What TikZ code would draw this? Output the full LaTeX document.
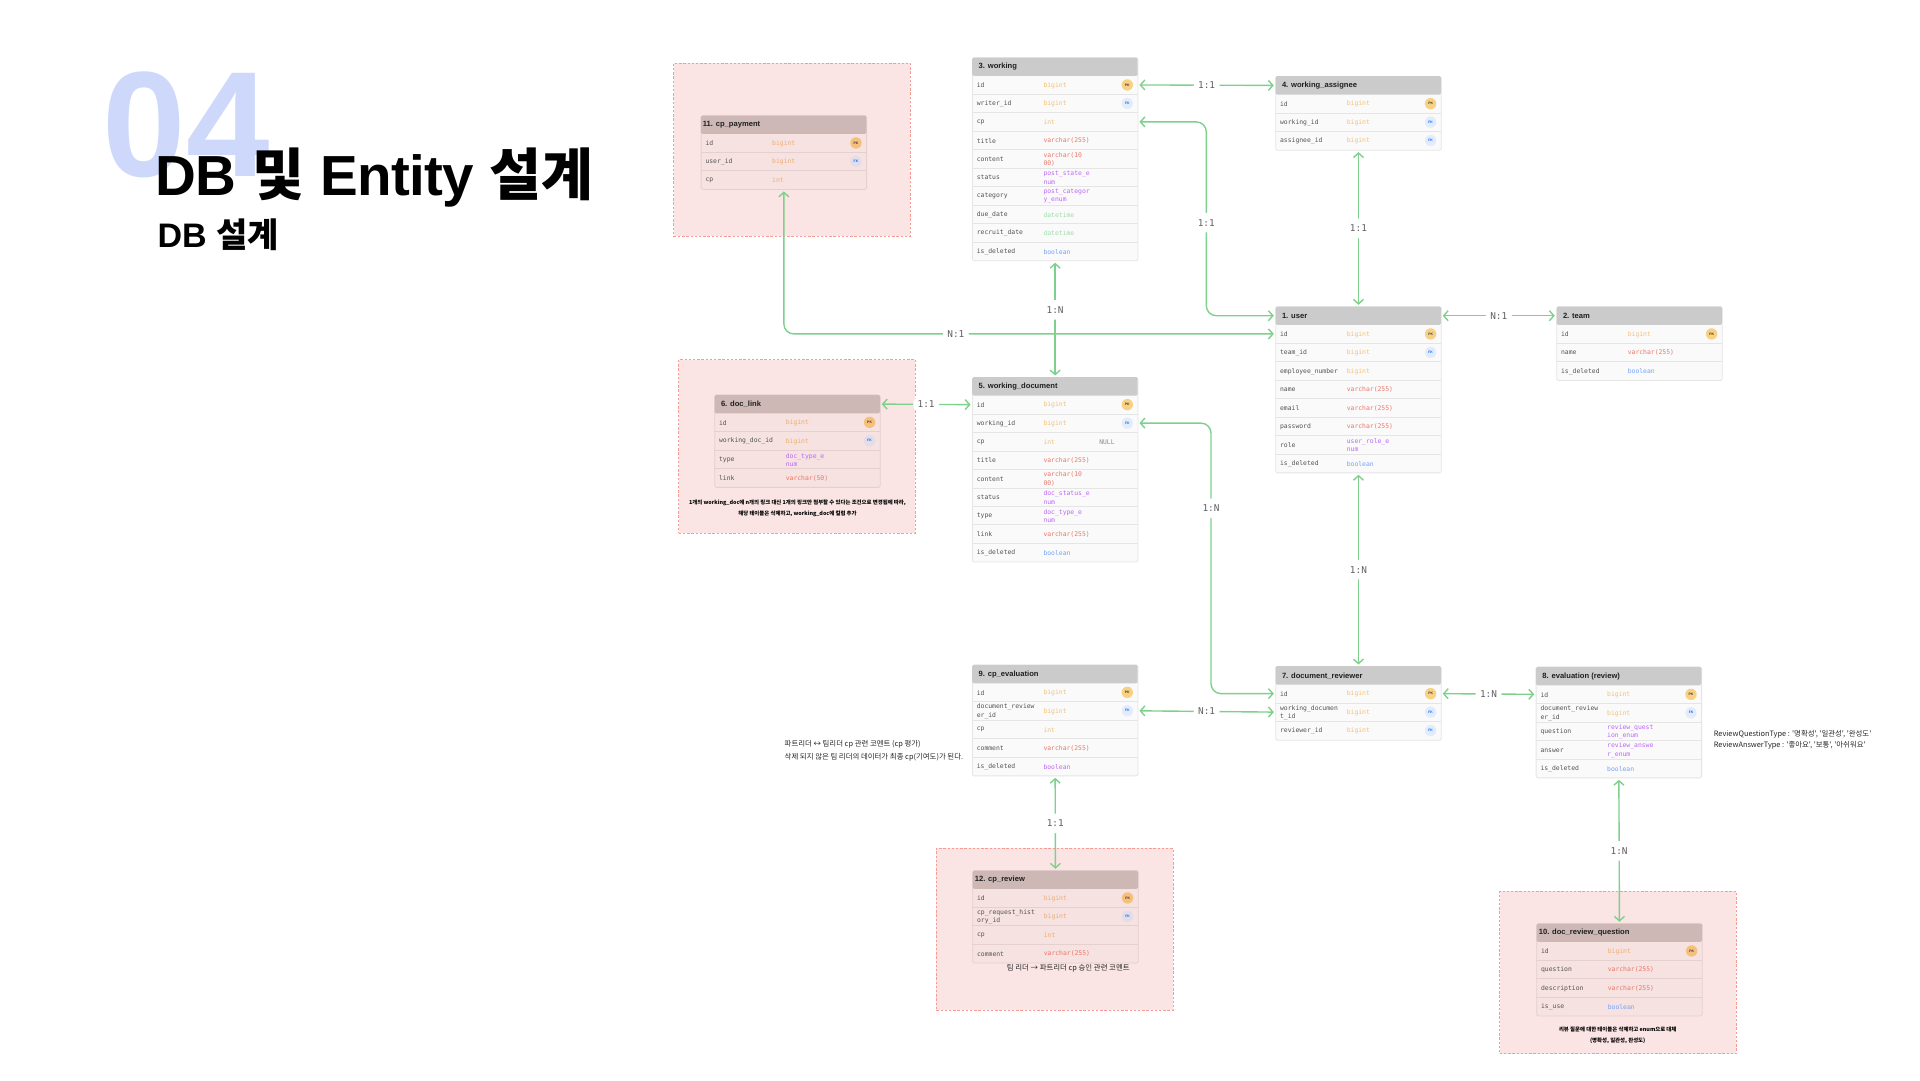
\documentclass[tikz,border=0pt]{standalone}
\usepackage{fontspec}
\usetikzlibrary{arrows.meta}
\setmainfont{Liberation Sans}
\newfontfamily\kr{Noto Sans CJK KR}
\newfontfamily\monof{DejaVu Sans Mono}
\newfontfamily\lat{Liberation Sans}
\newfontfamily\lattight{Liberation Sans}[LetterSpace=-1]
\definecolor{hdplain}{HTML}{CBCBCB}
\definecolor{rowplain}{HTML}{FAFAFA}
\definecolor{sepplain}{HTML}{E5E5E5}
\definecolor{hdpink}{HTML}{CDB8B6}
\definecolor{rowpink}{HTML}{F6E2E1}
\definecolor{seppink}{HTML}{E6D0CF}
\definecolor{boxfill}{HTML}{FBE4E4}
\definecolor{boxline}{HTML}{F79C95}
\definecolor{relline}{HTML}{7FD08C}
\definecolor{tyvar}{HTML}{EC7566}
\definecolor{tyenum}{HTML}{BC66F8}
\definecolor{tydate}{HTML}{9CDEAA}
\definecolor{tybool}{HTML}{74A2F7}
\definecolor{intplain}{HTML}{F3C174}
\definecolor{intpink}{HTML}{EBAD72}
\definecolor{pkplain}{HTML}{F9D184}
\definecolor{pkpink}{HTML}{F5C07C}
\definecolor{fkplain}{HTML}{E4ECFB}
\definecolor{fkpink}{HTML}{E4DCE8}
\definecolor{num}{HTML}{CDD8FA}
\tikzset{
  rel/.style={draw=relline,line width=1.4pt,rounded corners=10pt,line cap=round,
    shorten <=1.5pt,shorten >=1.5pt,
    {Straight Barb[length=4.5pt,width=10pt,line width=1.4pt]}-{Straight Barb[length=4.5pt,width=10pt,line width=1.4pt]}},
  rlabel/.style={fill=white,inner sep=0pt,minimum width=26pt,minimum height=19.5pt,text=black!62,
    font={\monof\fontsize{9.4}{10}\selectfont}},
  pinkbox/.style={rectangle,anchor=north west,fill=boxfill,draw=boxline,line width=.8pt,
    dash pattern=on 2.4pt off 1.8pt,inner sep=0pt},
  frame/.style={rectangle,anchor=north west,fill=rowcol,draw=sepcol,line width=.8pt,
    rounded corners=1.5pt,inner sep=0pt,minimum width=165.5pt},
  thead/.style={rectangle,anchor=north west,fill=hdcol,rounded corners=1.5pt,inner sep=0pt,
    minimum width=165.5pt,minimum height=18.4pt},
  ttitle/.style={anchor=west,inner sep=0pt,text=black!88,font={\lat\bfseries\fontsize{7.6}{8}\selectfont}},
  rowcell/.style={rectangle,inner sep=0pt,minimum width=165.5pt,minimum height=18.47pt},
  sep/.style={draw=sepcol,line width=.9pt},
  fieldtxt/.style={anchor=west,inner sep=0pt,align=left,text=black!68,font={\monof\fontsize{6.4}{8.3}\selectfont}},
  badge/.style={circle,inner sep=0pt,minimum size=11.4pt,font={\lat\bfseries\fontsize{3.4}{4}\selectfont}},
  pk/.style={badge,fill=pkcol,text=black!80},
  fk/.style={badge,fill=fkcol,text=blue!60!cyan},
  note/.style={inner sep=0pt,text=black!85,font={\kr\fontsize{7.4}{9}\selectfont}},
  smallnote/.style={inner sep=0pt,text=black,font={\kr\bfseries\fontsize{5.4}{7}\selectfont}},
  headline/.style={anchor=base west,inner sep=0pt,text=black},
}
% mode, name, x, y, title inset, title, number of rows, rows
\newcommand{\ertable}[8]{%
  \begin{scope}
  \colorlet{hdcol}{hd#1}\colorlet{rowcol}{row#1}\colorlet{sepcol}{sep#1}
  \colorlet{tyint}{int#1}\colorlet{pkcol}{pk#1}\colorlet{fkcol}{fk#1}
  \pgfmathsetmacro\frameh{18.4+#7*18.47}
  \node[frame,minimum height=\frameh pt] (#2) at (#3,#4) {};
  \node[thead] (#2-h) at (#3,#4) {};
  \node[ttitle] (#2-t) at (#3+#5,#4+9.7) {#6};
  \foreach \F/\T/\C/\B [count=\i] in {#8} {
    \pgfmathsetmacro\ry{#4+18.4+(\i-.5)*18.47}
    \node[rowcell] (#2-\i) at (#3+83,\ry) {};
    \ifnum\i<#7 \draw[sep] (#2-\i.south west) -- (#2-\i.south east);\fi
    \node[fieldtxt] (#2-\i-f) at (#3+4.6,\ry+.5) {\F};
    \node[fieldtxt,text=\C] (#2-\i-y) at (#3+71.3,\ry+.5) {\T};
    \ifnum\strcmp{\B}{pk}=0 \node[pk] (#2-\i-b) at (#3+155.3,\ry) {PK};\fi
    \ifnum\strcmp{\B}{fk}=0 \node[fk] (#2-\i-b) at (#3+155.3,\ry) {FK};\fi
  }
  \end{scope}}
\begin{document}
\begin{tikzpicture}[x=1pt,y=-1pt]
\useasboundingbox (0,0) rectangle (1920,1080);
\fill[white] (0,0) rectangle (1920,1080);
% headings
\node[headline,text=num,font={\lat\bfseries\fontsize{150}{150}\selectfont}] (bignum) at (102.5,176) {04};
\node[headline,font={\bfseries\fontsize{56.5}{64}\selectfont}] (maintitle) at (155.5,195.7) {{\lattight DB} {\kr 및} {\lattight Entity} {\kr 설계}};
\node[headline,font={\bfseries\fontsize{34}{36}\selectfont}] (subtitle) at (157.5,247) {{\lat DB} {\kr 설계}};
% pink regions
\node[pinkbox,minimum width=236.6pt,minimum height=173pt] (box11) at (673.3,62.7) {};
\node[pinkbox,minimum width=236.6pt,minimum height=173.4pt] (box6) at (678.3,359.3) {};
\node[pinkbox,minimum width=236.6pt,minimum height=162pt] (box12) at (936,847.7) {};
\node[pinkbox,minimum width=236.6pt,minimum height=162.1pt] (box10) at (1499.3,891) {};
% tables
\ertable{plain}{working}{972}{57.3}{6.5}{3. working}{10}{
  id/bigint/tyint/pk, writer\_id/bigint/tyint/fk, cp/int/tyint/no, title/varchar(255)/tyvar/no,
  content/{varchar(10\\00)}/tyvar/no, status/{post\_state\_e\\num}/tyenum/no,
  category/{post\_categor\\y\_enum}/tyenum/no, due\_date/datetime/tydate/no,
  recruit\_date/datetime/tydate/no, is\_deleted/boolean/tybool/no}
\ertable{plain}{assignee}{1275.3}{76}{6.5}{4. working\_assignee}{3}{
  id/bigint/tyint/pk, working\_id/bigint/tyint/fk, assignee\_id/bigint/tyint/fk}
\ertable{plain}{user}{1275.3}{306.3}{6.5}{1. user}{8}{
  id/bigint/tyint/pk, team\_id/bigint/tyint/fk, employee\_number/bigint/tyint/no,
  name/varchar(255)/tyvar/no, email/varchar(255)/tyvar/no, password/varchar(255)/tyvar/no,
  role/{user\_role\_e\\num}/tyenum/no, is\_deleted/boolean/tybool/no}
\ertable{plain}{team}{1556.3}{306.3}{6.5}{2. team}{3}{
  id/bigint/tyint/pk, name/varchar(255)/tyvar/no, is\_deleted/boolean/tybool/no}
\ertable{pink}{payment}{700.7}{115.3}{2}{11. cp\_payment}{3}{
  id/bigint/tyint/pk, user\_id/bigint/tyint/fk, cp/int/tyint/no}
\ertable{pink}{doclink}{714.3}{394.7}{6.5}{6. doc\_link}{4}{
  id/bigint/tyint/pk, working\_doc\_id/bigint/tyint/fk, type/{doc\_type\_e\\num}/tyenum/no,
  link/varchar(50)/tyvar/no}
\ertable{plain}{wdoc}{972}{377}{6.5}{5. working\_document}{9}{
  id/bigint/tyint/pk, working\_id/bigint/tyint/fk, cp/int/tyint/no, title/varchar(255)/tyvar/no,
  content/{varchar(10\\00)}/tyvar/no, status/{doc\_status\_e\\num}/tyenum/no,
  type/{doc\_type\_e\\num}/tyenum/no, link/varchar(255)/tyvar/no, is\_deleted/boolean/tybool/no}
\node[fieldtxt,text=black!45] (nullmark) at ([xshift=127pt,yshift=-.5pt]wdoc-3.west) {NULL};
\ertable{plain}{cpeval}{972}{664.7}{6.5}{9. cp\_evaluation}{5}{
  id/bigint/tyint/pk, {document\_review\\er\_id}/bigint/tyint/fk, cp/int/tyint/no,
  comment/varchar(255)/tyvar/no, is\_deleted/boolean/tyenum/no}
\ertable{plain}{reviewer}{1275.3}{666}{6.5}{7. document\_reviewer}{3}{
  id/bigint/tyint/pk, {working\_documen\\t\_id}/bigint/tyint/fk, reviewer\_id/bigint/tyint/fk}
\ertable{plain}{evaluation}{1535.7}{666.7}{6.5}{8. evaluation (review)}{5}{
  id/bigint/tyint/pk, {document\_review\\er\_id}/bigint/tyint/fk,
  question/{review\_quest\\ion\_enum}/tyenum/no, answer/{review\_answe\\r\_enum}/tyenum/no,
  is\_deleted/boolean/tybool/no}
\ertable{pink}{cpreview}{972.3}{870.3}{2.3}{12. cp\_review}{4}{
  id/bigint/tyint/pk, {cp\_request\_hist\\ory\_id}/bigint/tyint/fk, cp/int/tyint/no,
  comment/varchar(255)/tyvar/no}
\ertable{pink}{question}{1536.3}{923.3}{2.3}{10. doc\_review\_question}{4}{
  id/bigint/tyint/pk, question/varchar(255)/tyvar/no, description/varchar(255)/tyvar/no,
  is\_use/boolean/tybool/no}
% notes
\node[smallnote] (n6a) at (797.5,503.3) {1개의 working\_doc에 n개의 링크 대신 1개의 링크만 첨부할 수 있다는 조건으로 변경됨에 따라,};
\node[smallnote] (n6b) at (797.5,514.3) {해당 테이블은 삭제하고, working\_doc에 컬럼 추가};
\node[note,anchor=west] (n9a) at (784.5,744.7) {파트리더 ↔ 팀리더 cp 관련 코멘트 (cp 평가)};
\node[note,anchor=west] (n9b) at (784.5,757.7) {삭제 되지 않은 팀 리더의 데이터가 최종 cp(기여도)가 된다.};
\node[note] (n12) at (1068.3,968) {팀 리더 → 파트리더 cp 승인 관련 코멘트};
\node[note,anchor=west] (n8a) at (1713.6,734.3) {ReviewQuestionType : '명확성', '일관성', '완성도'};
\node[note,anchor=west] (n8b) at (1713.6,745.3) {ReviewAnswerType : '좋아요', '보통', '아쉬워요'};
\node[smallnote] (n10a) at (1617.7,1029.3) {리뷰 질문에 대한 테이블은 삭제하고 enum으로 대체};
\node[smallnote] (n10b) at (1617.7,1040.3) {(명확성, 일관성, 완성도)};
% bend columns
\coordinate (bendA) at (1206.3,0);
\coordinate (bendB) at (1211,0);
% relations
\draw[rel] (working-1.east) -- node[rlabel] (l1) {1:1} (assignee-h.west);
\draw[rel] (working-3.east) -- (working-3.east -| bendA) -- node[rlabel,pos=.52] (l2) {1:1} (bendA |- user-h.west) -- (user-h.west);
\draw[rel] (assignee.south) -- node[rlabel] (l3) {1:1} (user.north);
\draw[rel] (payment.south) -- (payment.south |- user-1.west) -- node[rlabel,pos=.35] (l4) {N:1} (user-1.west);
\draw[rel] (working.south) -- node[rlabel,pos=.42] (l5) {1:N} (wdoc.north);
\draw[rel] (user-h.east) -- node[rlabel] (l6) {N:1} (team-h.west);
\draw[rel] (user.south) -- node[rlabel] (l7) {1:N} (reviewer.north);
\draw[rel] (doclink-h.east) -- node[rlabel] (l8) {1:1} (wdoc-1.west);
\draw[rel] (wdoc-2.east) -- (wdoc-2.east -| bendB) -- node[rlabel,pos=.315] (l9) {1:N} (bendB |- reviewer-1.west) -- (reviewer-1.west);
\draw[rel] (cpeval-2.east) -- node[rlabel] (l10) {N:1} (reviewer-2.west);
\draw[rel] (reviewer-1.east) -- node[rlabel] (l11) {1:N} (evaluation-1.west);
\draw[rel] (evaluation.south) -- node[rlabel] (l12) {1:N} (question.north);
\draw[rel] (cpeval.south) -- node[rlabel] (l13) {1:1} (cpreview.north);
\end{tikzpicture}
\end{document}
